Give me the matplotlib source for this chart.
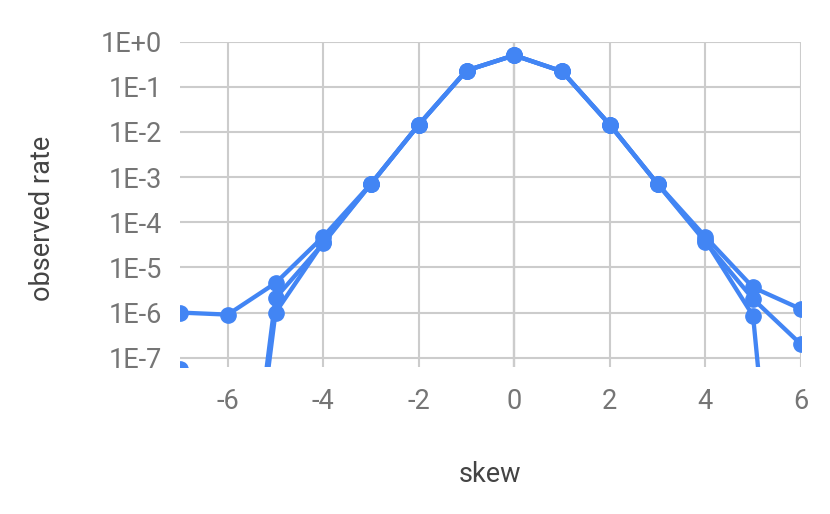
import matplotlib
matplotlib.use('Agg')
from matplotlib import pyplot as plt

# skew values and observed rates for the three runs (all drawn in the same blue)
skew = [-7, -6, -5, -4, -3, -2, -1, 0, 1, 2, 3, 4, 5, 6]
rate_a = [1.0e-6, 9.0e-7, 4.5e-6, 4.8e-5, 7.1e-4, 1.45e-2, 2.3e-1, 5.0e-1, 2.2e-1, 1.45e-2, 7.1e-4, 4.8e-5, 3.6e-6, 1.2e-6]
rate_b = [5.6e-8, 1e-14, 2.1e-6, 3.4e-5, 7.1e-4, 1.45e-2, 2.3e-1, 5.0e-1, 2.2e-1, 1.45e-2, 7.1e-4, 3.7e-5, 2.0e-6, 2.0e-7]
rate_c = [1e-16, 5e-15, 1.0e-6, 3.6e-5, 7.1e-4, 1.45e-2, 2.3e-1, 5.0e-1, 2.2e-1, 1.45e-2, 7.1e-4, 4.0e-5, 8.5e-7, 1e-17]

x_ticks = [-6, -4, -2, 0, 2, 4, 6]
y_ticks = [1e0, 1e-1, 1e-2, 1e-3, 1e-4, 1e-5, 1e-6, 1e-7]
y_labels = ['1E+0', '1E-1', '1E-2', '1E-3', '1E-4', '1E-5', '1E-6', '1E-7']

plt.rcParams['font.family'] = ['Roboto', 'DejaVu Sans']

fig = plt.figure(figsize=(8.3, 5.14), dpi=100)
ax = fig.add_axes([180 / 830, 1 - 367 / 514, 620.8 / 830, (367 - 41.7) / 514])

blue = '#4285F4'
for r in (rate_c, rate_b, rate_a):
    ax.plot(skew, r, color=blue, lw=3.1, marker='o', ms=11, zorder=3)

ax.set_yscale('log')
ax.set_xlim(-7, 6)
ax.set_ylim(10 ** -7.206, 1)

ax.set_xticks(x_ticks)
ax.set_xticklabels([str(t) for t in x_ticks])
ax.set_yticks(y_ticks)
ax.set_yticklabels(y_labels)
ax.minorticks_off()

ax.grid(True, color='#cccccc', lw=1.5, zorder=0)
ax.axvline(0, color='#333333', lw=1.5, zorder=1)
for s in ax.spines.values():
    s.set_visible(False)
ax.tick_params(length=0, labelsize=19.5, labelcolor='#757575')
ax.tick_params(axis='x', pad=15)
ax.tick_params(axis='y', pad=13)

fig.text(490 / 830, 1 - 474 / 514, 'skew', ha='center', va='center',
         fontsize=19.5, color='#444444')
fig.text(43 / 830, 1 - 218 / 514, 'observed rate', ha='center', va='center',
         rotation=90, fontsize=19.5, color='#444444')

fig.savefig('out.png', dpi=100)
